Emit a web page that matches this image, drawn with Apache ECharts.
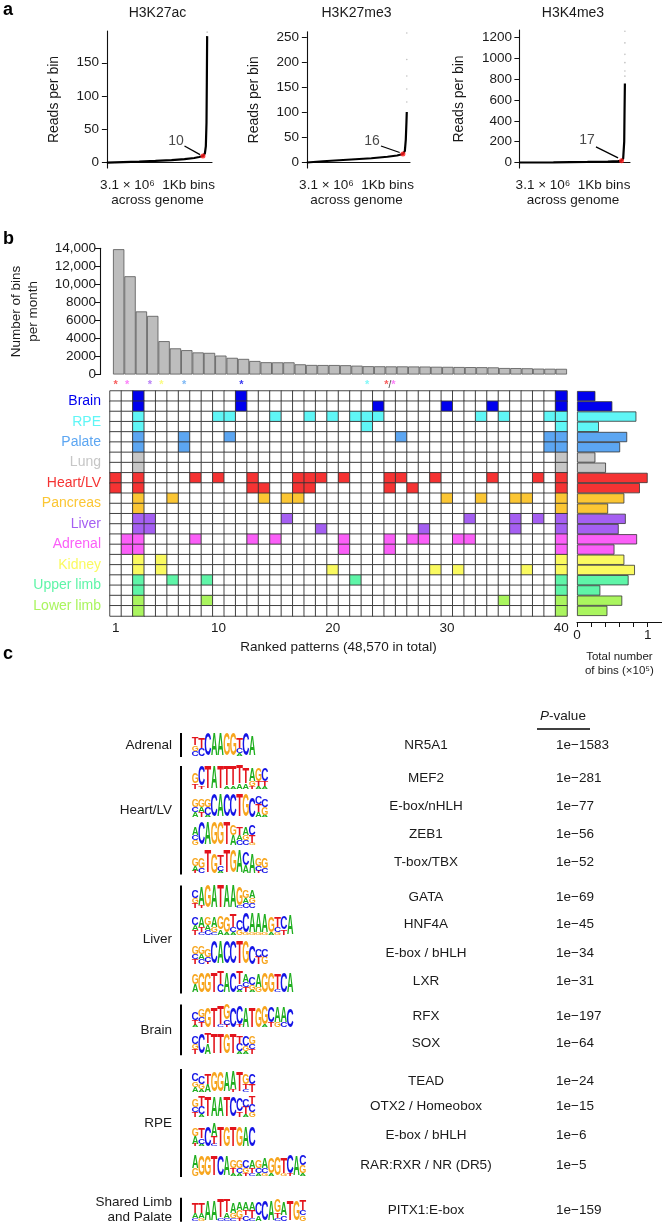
<!DOCTYPE html>
<html><head><meta charset="utf-8">
<script src="https://cdn.jsdelivr.net/npm/echarts@6/dist/echarts.min.js"></script>
<style>html,body{margin:0;padding:0;background:#fff}#c{width:662px;height:1227px}</style>
</head><body><div id="c"></div><script>
// ================= DATA =================
// Panel a: sorted reads per 1Kb bin (x in millions of bins)
const aTitles = ['H3K27ac', 'H3K27me3', 'H3K4me3'];
const aCurve1 = [[0,0],[0.5,0.8],[1.0,1.6],[1.5,2.6],[2.0,3.8],[2.4,5.2],[2.7,7],[2.85,8.5],[2.97,10],[3.03,14],[3.06,25],[3.08,60],[3.09,120],[3.1,190]];
const aCurve2 = [[0,-1],[0.5,1.5],[1,3.5],[1.5,5.5],[2,7.5],[2.5,10.5],[2.8,13],[2.98,16],[3.04,22],[3.07,45],[3.09,80],[3.1,100]];
const aCurve3 = [[0,0],[1,2],[2,5],[2.6,9],[2.9,13],[3.0,17],[3.05,40],[3.08,200],[3.09,500],[3.1,760]];
const aTail1 = [[3.1,150],[3.1,163],[3.1,176],[3.1,188],[3.1,196]];
const aTail2 = [[3.1,120],[3.1,146],[3.1,172],[3.1,205],[3.1,258]];
const aTail3 = [[3.1,830],[3.1,880],[3.1,960],[3.1,1040],[3.1,1150],[3.1,1262]];
const aThreshold = [[2.97,10],[2.98,16],[3.0,17]];
const aYTicks1 = [0,50,100,150];
const aYTicks2 = [0,50,100,150,200,250];
const aYTicks3 = [0,200,400,600,800,1000,1200];

// Panel b: top bars (number of bins per month) for the 40 ranked patterns
const patternRanks = Array.from({length:40}, (_, i) => String(i + 1));
const binsPerMonth = [13900,10900,7000,6500,3700,2900,2700,2450,2400,2100,1850,1730,1500,1360,1350,1350,1130,1060,1050,1050,1030,980,920,910,900,900,890,880,860,850,830,820,810,790,720,710,690,650,640,630];
const tissues = ['Brain','RPE','Palate','Lung','Heart/LV','Pancreas','Liver','Adrenal','Kidney','Upper limb','Lower limb'];
// pattern columns that are marked, for the two rows of each tissue
const colsBrain     = [[3,12,40],[3,12,24,30,34,40]];
const colsRPE       = [[3,10,11,15,18,20,22,23,24,33,35,39,40],[3,23,40]];
const colsPalate    = [[3,7,11,26,39,40],[3,7,39,40]];
const colsLung      = [[3,40],[3,40]];
const colsHeart     = [[1,3,8,10,13,17,18,19,21,25,26,29,34,38,40],[1,3,13,14,17,18,25,27,40]];
const colsPancreas  = [[3,6,14,16,17,30,33,36,37,40],[3,40]];
const colsLiver     = [[3,4,16,32,36,38,40],[3,4,19,28,36,40]];
const colsAdrenal   = [[2,3,8,13,15,21,25,27,28,31,32,40],[2,3,21,25,40]];
const colsKidney    = [[3,5,40],[3,5,20,29,31,37,40]];
const colsUpperLimb = [[3,6,9,22,40],[3,40]];
const colsLowerLimb = [[3,9,35,40],[3,40]];
const tissueCols = [colsBrain,colsRPE,colsPalate,colsLung,colsHeart,colsPancreas,colsLiver,colsAdrenal,colsKidney,colsUpperLimb,colsLowerLimb];
// right bars: total number of bins (x10^5) per row (2 rows per tissue)
const totalBins = [0.26,0.50, 0.84,0.31, 0.71,0.61, 0.26,0.41, 1.00,0.89, 0.67,0.44, 0.69,0.59, 0.85,0.53, 0.67,0.82, 0.73,0.33, 0.64,0.43];
const totalBinsTicks = [0,1];
// stars above patterns: column and tissue(s)
const starCols = [1,2,4,5,7,12,23,25];
const starTissues = [['Heart/LV'],['Adrenal'],['Liver'],['Kidney'],['Palate'],['Brain'],['RPE'],['Heart/LV','Adrenal']];
const xTickRanks = ['1','10','20','30','40'];

// Panel c: motifs
const motifGroups = ['Adrenal','Heart/LV','Liver','Brain','RPE','Shared Limb\nand Palate'];
const motifGroupOf = [0,1,1,1,1,2,2,2,2,3,3,4,4,4,4,5];
const motifNames = ['NR5A1','MEF2','E-box/nHLH','ZEB1','T-box/TBX','GATA','HNF4A','E-box / bHLH','LXR','RFX','SOX','TEAD','OTX2 / Homeobox','E-box / bHLH','RAR:RXR / NR (DR5)','PITX1:E-box'];
const motifPvalues = ['1e\u22121583','1e\u2212281','1e\u221277','1e\u221256','1e\u221252','1e\u221269','1e\u221245','1e\u221234','1e\u221231','1e\u2212197','1e\u221264','1e\u221224','1e\u221215','1e\u22126','1e\u22125','1e\u2212159'];
// each position: letters top->bottom with heights in tenths
const motifLogos = [
 'T3G2C2 T4C3 C9 A9 A9 G9 G9 T4C2A1 C9 A8',
 'G4T2 C8T1 T9 A9 T9 T8A1 T8A1 T7A2 T6A2 A5G2T1 G5T2A1 C5T2A1',
 'G3C2A2 G3A2T2 G3C3A1 C9 A9 C9 C9 T9 G9 C8 C3T3A2 C3G3A1',
 'A3C2G2 C9 A9 G9 G9 T9 G4A4 T3A2C2 A3G2C2 C4T3G1',
 'G3A2T1 G4C2 T9 G8 T4C2A1 T9 G9 A9 C5A3 A8 G3C2T1 G4C2',
 'C3G2T2 A7T1 G9 A9 T9 A9 A9 G7C1 G3A2C2 A3G2C2',
 'C3A2T2 A4T2C1 G3A2C2 A4G2C1 G5A2 G6A1 T5C2A1 C4G2 C8G1 A8G1 A8G1 A7G1 G6A1 T4C2G1 C5T2 A8',
 'G3C2T2 G3A2C2 G3C2T1 C9 A9 C9 C9 T9 G9 C7 C3T3 C3G3',
 'G4A3 G8 G8 T8 T5C3 A8 C8 T5C2A1 A3C2T2 C3G2A1 A5G2 G8 G8 T6C1 C8 A8',
 'C3T2A1 G3C2T2 G8 T8 T7C1 G6C2T1 C8 C7T1 A8 T8 G8 G7A1 C6T2 A6G2 A6C2 C7',
 'C3G2T2 C8 T4A4 T8 T8 G8 T8 T3C3A1 C4G2A1 G3C2T2',
 'C3G2A2 C3G2A1 T4A3 G8 G8 A8 A7T1 T8 G4T2C1 C4T3',
 'G3C2T2 T4C3A1 T8 A8 A8 T8 C8 C5T2 C3T3A1 T3C3G2',
 'G3A3T1 T4C2A1 C8 A5T3C1 T8 G8 T8 G8 A8 C8',
 'A5G3 G8 G8 T8 C8 A8 G3T2A1 G3C2A1 C3G2T1 A3T2C1 G3C2A1 A4C2G1 G6A1 G7 T6G1 C7T1 A8 C4G3A1',
 'T4A2C1 T4A2G1 A8 A8 T7C1 T5A2C1 A4G2C1 A3G3T1 A3T2C2 A3T3C1 C5A2 C8 A8 G5T2C1 A5C2 T8 G8 T4C2G2'
];

// ================= STYLE / LAYOUT =================
const FONT = '"Liberation Sans", Arial, Helvetica, sans-serif';
const TXT = '#1a1a1a';
const tissueColors = ['#0000ee','#5ff6f6','#5ca6f2','#c6c6c6','#f53333','#fbc634','#a55ff2','#fb5ff8','#fafa60','#5ff5a8','#aaf55f'];
const LETTER_COLOR = {A:'#1fae1f', C:'#1414e6', G:'#f7a51d', T:'#e3141c'};
const INK = {A:0.70, C:0.64, G:0.70, T:0.58};
const MOTIF_ROW = [0,1.18,2.2,3.2,4.2,5.45,6.4,7.45,8.45,9.7,10.65,12.0,12.9,13.95,15.0,16.6];
const A_LABEL_POS = [[2.14,33],[2.02,42],[1.99,216]];
const A_ARROW = [[[2.4,25],[2.88,12]],[[2.3,32],[2.88,19]],[[2.25,150],[2.9,45]]];
const A_GRIDS = [
  {left:103, top:31, width:109, height:137},
  {left:303, top:31.7, width:107, height:136.3},
  {left:516, top:30, width:114, height:138}
];
const A_X = [[-0.12,3.25],[-0.12,3.2],[-0.1,3.25]];
const A_Y = [[-8,197.7],[-12,260.6],[-53,1274]];
const A_TICKS = [aYTicks1,aYTicks2,aYTicks3];
const A_NAMEGAP = [42,42,50];

const chart = echarts.init(document.getElementById('c'), null, {renderer:'canvas', width:662, height:1227});

const grid = [], xAxis = [], yAxis = [], series = [];
const axisLineBlack = {show:true, lineStyle:{color:'#111', width:1.1}};

// ---------- panel a ----------
const aCurves = [aCurve1,aCurve2,aCurve3];
const aTails = [aTail1,aTail2,aTail3];
for (let i = 0; i < 3; i++) {
  grid.push(A_GRIDS[i]);
  xAxis.push({type:'value', gridIndex:i, min:A_X[i][0], max:A_X[i][1], axisLine:axisLineBlack, axisTick:{show:false}, axisLabel:{show:false}, splitLine:{show:false},
    name:'3.1 \u00d7 10\u2076  1Kb bins\nacross genome', nameLocation:'middle', nameGap:10,
    nameTextStyle:{fontFamily:FONT, fontSize:13.5, color:TXT, lineHeight:15, verticalAlign:'top'}});
  yAxis.push({type:'value', gridIndex:i, min:A_Y[i][0], max:A_Y[i][1], axisLine:axisLineBlack,
    axisTick:{show:true, length:5, customValues:A_TICKS[i], lineStyle:{color:'#111'}},
    axisLabel:{customValues:A_TICKS[i], fontFamily:FONT, fontSize:13.5, color:TXT, margin:4, formatter:v => String(v)},
    splitLine:{show:false}, name:'Reads per bin', nameLocation:'middle', nameGap:A_NAMEGAP[i],
    nameTextStyle:{fontFamily:FONT, fontSize:14, color:TXT}});
  series.push({type:'line', xAxisIndex:i, yAxisIndex:i, data:aCurves[i], symbol:'none', silent:true, z:3,
    lineStyle:{color:'#000', width:2.2}});
  series.push({type:'scatter', xAxisIndex:i, yAxisIndex:i, data:aTails[i], symbolSize:1.6, silent:true,
    itemStyle:{color:'#b0b0b0'}});
  series.push({type:'scatter', xAxisIndex:i, yAxisIndex:i, data:[aThreshold[i]], symbolSize:5, z:6, silent:true,
    itemStyle:{color:'#ff1a1a'}});
  series.push({type:'scatter', xAxisIndex:i, yAxisIndex:i, data:[A_LABEL_POS[i]], symbolSize:0, silent:true, z:6,
    label:{show:true, position:'inside', formatter:String(aThreshold[i][1]), fontFamily:FONT, fontSize:14, color:TXT},
    markLine:{silent:true, symbol:['none','arrow'], symbolSize:[0,6], label:{show:false},
      lineStyle:{color:'#000', width:1.3, type:'solid'},
      data:[[{coord:A_ARROW[i][0]},{coord:A_ARROW[i][1]}]]}});
}

// ---------- panel b: top bars (grid 3) ----------
grid.push({left:110, top:248.3, width:457, height:126.2});
xAxis.push({type:'category', gridIndex:3, data:patternRanks, show:false});
yAxis.push({type:'value', gridIndex:3, min:0, max:14000, interval:2000, offset:13,
  axisLine:axisLineBlack, axisTick:{show:true, length:5, lineStyle:{color:'#111'}},
  axisLabel:{fontFamily:FONT, fontSize:13.5, color:TXT, margin:4, formatter:v => v >= 10000 ? v.toLocaleString('en-US') : String(v)},
  splitLine:{show:false}, name:'Number of bins\nper month', nameLocation:'middle', nameGap:58,
  nameTextStyle:{fontFamily:FONT, fontSize:13.5, color:TXT, lineHeight:17}});
series.push({type:'bar', xAxisIndex:3, yAxisIndex:3, data:binsPerMonth, barCategoryGap:'0%', silent:true,
  itemStyle:{color:'#bdbdbd', borderColor:'#555', borderWidth:0.8}});

// ---------- stars (grid 4) ----------
grid.push({left:110, top:379, width:457, height:12});
xAxis.push({type:'category', gridIndex:4, data:patternRanks, show:false});
yAxis.push({type:'value', gridIndex:4, min:0, max:1, show:false});
const starRich = {k:{color:'#111', fontSize:10, fontFamily:FONT}};
tissues.forEach((t,i) => { starRich['t'+i] = {color:tissueColors[i], fontSize:11, fontWeight:'bold', fontFamily:FONT}; });
series.push({type:'scatter', xAxisIndex:4, yAxisIndex:4, symbolSize:0, silent:true,
  data:starCols.map((c,i) => ({value:[String(c),0.5]})),
  label:{show:true, position:'inside', rich:starRich,
    formatter:p => starTissues[p.dataIndex].map(t => '{t'+tissues.indexOf(t)+'|*}').join('{k|/}')}});

// ---------- heatmap (grid 5) ----------
grid.push({left:110, top:391, width:457, height:225});
xAxis.push({type:'category', gridIndex:5, data:patternRanks, axisLine:{show:false}, axisTick:{show:false},
  axisLabel:{fontFamily:FONT, fontSize:13.5, color:TXT, margin:5, interval:(idx, v) => xTickRanks.includes(v)},
  name:'Ranked patterns (48,570 in total)', nameLocation:'middle', nameGap:24,
  nameTextStyle:{fontFamily:FONT, fontSize:13.5, color:TXT, verticalAlign:'top'}});
const rowLabels = [];
tissues.forEach(t => { rowLabels.push(t + ' 1'); rowLabels.push(t + ' 2'); });
yAxis.push({type:'category', gridIndex:5, data:rowLabels, inverse:true, show:false});
yAxis.push({type:'category', gridIndex:5, data:tissues, inverse:true, position:'left',
  axisLine:{show:false}, axisTick:{show:false},
  axisLabel:{fontFamily:FONT, fontSize:14, margin:9, color:(v, i) => tissueColors[tissues.indexOf(v)]}});
const heatData = [];
tissueCols.forEach((pair, ti) => {
  pair.forEach((cols, k) => {
    const r = ti * 2 + k;
    for (let c = 1; c <= 40; c++) heatData.push([c - 1, r, cols.includes(c) ? ti + 1 : 0]);
  });
});
const heatIndex = series.length;
series.push({type:'heatmap', xAxisIndex:5, yAxisIndex:5, data:heatData, silent:true,
  itemStyle:{borderColor:'#333', borderWidth:0.9}});

// ---------- right bars (grid 6) ----------
grid.push({left:577, top:391, width:84.8, height:225});
xAxis.push({type:'value', gridIndex:6, min:0, max:1.2, interval:0.2, offset:6,
  axisLine:axisLineBlack, axisTick:{show:true, length:5, lineStyle:{color:'#111'}},
  axisLabel:{fontFamily:FONT, fontSize:13.5, color:TXT, margin:6, showMaxLabel:false,
    formatter:v => totalBinsTicks.some(t => Math.abs(t - v) < 1e-6) ? String(Math.round(v)) : ''},
  splitLine:{show:false}, name:'Total number\nof bins (\u00d710\u2075)', nameLocation:'middle', nameGap:28,
  nameTextStyle:{fontFamily:FONT, fontSize:11.5, color:TXT, lineHeight:14, verticalAlign:'top'}});
yAxis.push({type:'category', gridIndex:6, data:rowLabels, inverse:true, show:false});
series.push({type:'bar', xAxisIndex:6, yAxisIndex:7, barCategoryGap:'0%', silent:true,
  data:totalBins.map((v,i) => ({value:v, itemStyle:{color:tissueColors[Math.floor(i/2)]}})),
  itemStyle:{borderColor:'#333', borderWidth:0.8}});

// ---------- panel c: motifs (grid 7) ----------
grid.push({left:192, top:717, width:114, height:504});
xAxis.push({type:'value', gridIndex:7, min:0, max:18, show:false});
yAxis.push({type:'value', gridIndex:7, min:-1, max:17, inverse:true, show:false});
const LOGO_UNIT = 2.55, LOGO_BASE = 11, NAME_X = 426, PVAL_X = 556, LF = 20;
function renderMotif(params, api) {
  const i = params.dataIndex;
  const p0 = api.coord([0, MOTIF_ROW[i]]);
  const w = api.size([1, 0])[0];
  const baseY = p0[1] + LOGO_BASE;
  const children = [];
  motifLogos[i].split(' ').forEach((col, k) => {
    const cx = p0[0] + (k + 0.5) * w;
    const parts = col.match(/[ACGT]\d/g);
    let y = baseY;
    for (let j = parts.length - 1; j >= 0; j--) {
      const L = parts[j][0];
      const h = (+parts[j][1]) * LOGO_UNIT;
      const sy = h / (0.716 * LF);
      const sx = (w * 1.0) / (INK[L] * LF);
      const yc = y - h / 2 + 0.045 * LF * sy;
      children.push({type:'text', x:cx, y:yc, scaleX:sx, scaleY:sy, silent:true,
        style:{text:L, fill:LETTER_COLOR[L], font:'bold ' + LF + 'px ' + FONT, align:'center', verticalAlign:'middle', textAlign:'center', textVerticalAlign:'middle'}});
      y -= h;
    }
  });
  children.push({type:'text', x:NAME_X, y:p0[1], silent:true,
    style:{text:motifNames[i], fill:TXT, font:'13.5px ' + FONT, align:'center', verticalAlign:'middle', textAlign:'center', textVerticalAlign:'middle'}});
  children.push({type:'text', x:PVAL_X, y:p0[1], silent:true,
    style:{text:motifPvalues[i], fill:TXT, font:'13.5px ' + FONT, align:'left', verticalAlign:'middle', textAlign:'left', textVerticalAlign:'middle'}});
  return {type:'group', children};
}
series.push({type:'custom', xAxisIndex:7, yAxisIndex:8, silent:true, clip:false,
  data:motifNames.map((n, i) => [0, MOTIF_ROW[i]]), renderItem:renderMotif});

const BRACKET_X = 181, GROUP_LABEL_X = 172, BRACKET_PAD = 12;
function renderGroup(params, api) {
  const g = params.dataIndex;
  const idx = motifGroupOf.map((v, i) => v === g ? i : -1).filter(v => v >= 0);
  const yTop = api.coord([0, MOTIF_ROW[idx[0]]])[1] - BRACKET_PAD;
  const yBot = api.coord([0, MOTIF_ROW[idx[idx.length - 1]]])[1] + BRACKET_PAD;
  const yMid = (yTop + yBot) / 2 - (g === 1 ? 10 : 0);
  return {type:'group', children:[
    {type:'line', shape:{x1:BRACKET_X, y1:yTop, x2:BRACKET_X, y2:yBot}, style:{stroke:'#000', lineWidth:2}, silent:true},
    {type:'text', x:GROUP_LABEL_X, y:yMid, silent:true,
      style:{text:motifGroups[g], fill:TXT, font:'13.5px ' + FONT, lineHeight:15, align:'right', verticalAlign:'middle', textAlign:'right', textVerticalAlign:'middle'}}
  ]};
}
series.push({type:'custom', xAxisIndex:7, yAxisIndex:8, silent:true, clip:false,
  data:motifGroups.map((g, i) => [0, i]), renderItem:renderGroup});

const option = {
  backgroundColor:'#fff',
  animation:false,
  grid, xAxis, yAxis, series,
  visualMap:{type:'piecewise', show:false, seriesIndex:heatIndex, dimension:2,
    pieces:[{value:0, color:'#ffffff'}].concat(tissues.map((t, i) => ({value:i + 1, color:tissueColors[i]})))},
  graphic:[
    {type:'text', left:3, top:1, style:{text:'a', font:'bold 18px ' + FONT, fill:'#000'}},
    {type:'text', left:3, top:230, style:{text:'b', font:'bold 18px ' + FONT, fill:'#000'}},
    {type:'text', left:3, top:645, style:{text:'c', font:'bold 18px ' + FONT, fill:'#000'}},
    ...aTitles.map((t, i) => ({type:'text', x:A_GRIDS[i].left + A_GRIDS[i].width / 2, y:13,
      style:{text:t, font:'14px ' + FONT, fill:TXT, align:'center', verticalAlign:'middle', textAlign:'center', textVerticalAlign:'middle'}})),
    {type:'text', x:563, y:716, style:{text:'{i|P}-value', font:'13.5px ' + FONT, fill:TXT, align:'center', verticalAlign:'middle', textAlign:'center', textVerticalAlign:'middle',
      rich:{i:{fontStyle:'italic', fontSize:13.5, fontFamily:FONT, fill:TXT, color:TXT}}}},
    {type:'line', shape:{x1:537, y1:729, x2:590, y2:729}, style:{stroke:'#000', lineWidth:1.6}}
  ]
};
chart.setOption(option);
</script></body></html>
